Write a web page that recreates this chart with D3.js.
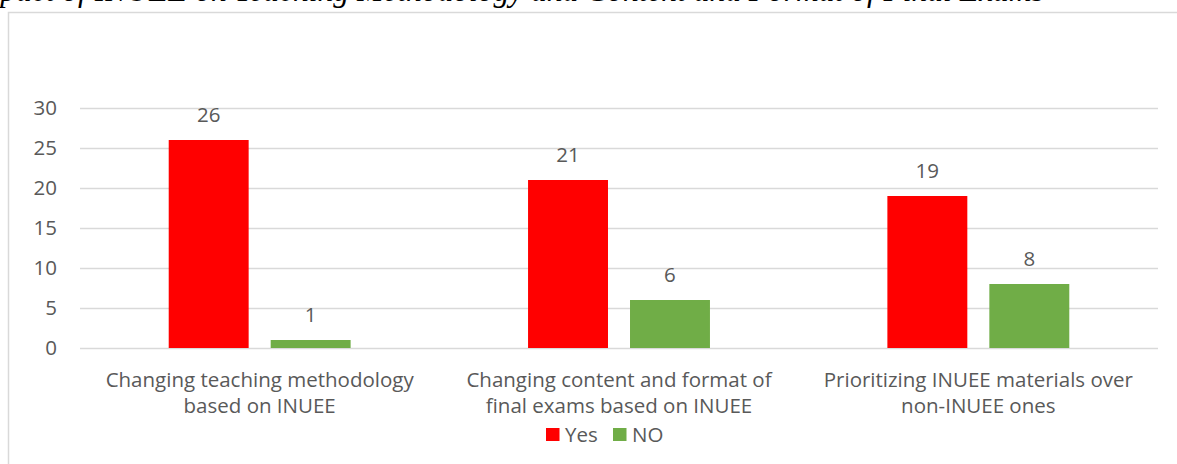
<!DOCTYPE html>
<html>
<head>
<meta charset="utf-8">
<script src="https://cdn.jsdelivr.net/npm/d3@7"></script>
<style>
  body { margin: 0; background: #fff; }
  svg { display: block; }
  .lbl { font-family: "Open Sans", sans-serif; fill: #595959; }
</style>
</head>
<body>
<div class="chart"></div>
<script>
const categories = [
  "Changing teaching methodology|based on INUEE",
  "Changing content and format of|final exams based on INUEE",
  "Prioritizing INUEE materials over|non-INUEE ones"
];
const seriesNames = ["Yes", "NO"];
const yesValues = [26, 21, 19];
const noValues = [1, 6, 8];
const yTicks = [0, 5, 10, 15, 20, 25, 30];
const captionText = "Impact of INUEE on Teaching Methodology and Content and Format of Final Exams";

const colors = { Yes: "#ff0000", NO: "#70ad47" };
const fontSize = 20.5;

const W = 1177, H = 464;
const margin = { top: 108, right: 19, bottom: 116, left: 80 },
  width = W - margin.left - margin.right,
  height = H - margin.top - margin.bottom;

const svg = d3.select(".chart").append("svg")
  .attr("width", W)
  .attr("height", H);

// caption of the figure, cut off at the top edge
svg.append("text")
  .attr("x", -33)
  .attr("y", 0.5)
  .attr("font-family", "Liberation Serif, serif")
  .attr("font-style", "italic")
  .attr("font-size", 31.5)
  .attr("fill", "#000")
  .text(captionText);

// chart frame
svg.append("rect")
  .attr("x", 8.5)
  .attr("y", 12.5)
  .attr("width", W + 10)
  .attr("height", H)
  .attr("fill", "#fff")
  .attr("stroke", "#d9d9d9")
  .attr("stroke-width", 1.5);

const g = svg.append("g")
  .attr("transform", "translate(" + margin.left + "," + margin.top + ")");

const y = d3.scaleLinear().domain([0, 30]).range([height, 0]);
const x0 = d3.scaleBand().domain(categories).range([0, width]).padding(0);
const x1 = d3.scaleBand().domain(seriesNames).range([0, x0.bandwidth()])
  .paddingInner(0.216).paddingOuter(0.87);

// gridlines
g.selectAll(".grid")
  .data(yTicks)
  .enter().append("line")
  .attr("x1", 0)
  .attr("x2", width)
  .attr("y1", d => Math.round(y(d)) + 0.5)
  .attr("y2", d => Math.round(y(d)) + 0.5)
  .attr("stroke", "#d9d9d9")
  .attr("stroke-width", 1.5);

// y labels
g.selectAll(".ylab")
  .data(yTicks)
  .enter().append("text")
  .attr("class", "lbl")
  .attr("x", -23)
  .attr("y", d => y(d))
  .attr("dy", "0.36em")
  .attr("text-anchor", "end")
  .attr("font-size", fontSize)
  .text(d => d);

const rows = categories.map((c, i) => ({ cat: c, values: [
  { key: "Yes", value: yesValues[i] },
  { key: "NO", value: noValues[i] }
] }));

const groups = g.selectAll(".grp")
  .data(rows)
  .enter().append("g")
  .attr("transform", d => "translate(" + x0(d.cat) + ",0)");

groups.selectAll("rect")
  .data(d => d.values)
  .enter().append("rect")
  .attr("x", d => x1(d.key))
  .attr("y", d => y(d.value))
  .attr("width", x1.bandwidth())
  .attr("height", d => height - y(d.value))
  .attr("fill", d => colors[d.key]);

groups.selectAll(".val")
  .data(d => d.values)
  .enter().append("text")
  .attr("class", "lbl")
  .attr("x", d => x1(d.key) + x1.bandwidth() / 2)
  .attr("y", d => y(d.value) - 18)
  .attr("text-anchor", "middle")
  .attr("font-size", fontSize)
  .text(d => d.value);

// category labels
const catLab = g.selectAll(".xlab")
  .data(categories)
  .enter().append("text")
  .attr("class", "lbl")
  .attr("x", d => x0(d) + x0.bandwidth() / 2)
  .attr("y", height + 39)
  .attr("text-anchor", "middle")
  .attr("font-size", fontSize);

catLab.selectAll("tspan")
  .data(d => d.split("|"))
  .enter().append("tspan")
  .attr("x", function () { return this.parentNode.getAttribute("x"); })
  .attr("dy", (d, i) => i === 0 ? 0 : 26)
  .text(d => d);

// legend
const legend = svg.append("g")
  .attr("transform", "translate(546,428)");

const legX = [0, 67];
seriesNames.forEach((s, i) => {
  legend.append("rect")
    .attr("x", legX[i])
    .attr("y", 0)
    .attr("width", 13.5)
    .attr("height", 13)
    .attr("fill", colors[s]);
  legend.append("text")
    .attr("class", "lbl")
    .attr("x", legX[i] + 19)
    .attr("y", 6.5)
    .attr("dy", "0.36em")
    .attr("font-size", fontSize)
    .text(s);
});
</script>
</body>
</html>
